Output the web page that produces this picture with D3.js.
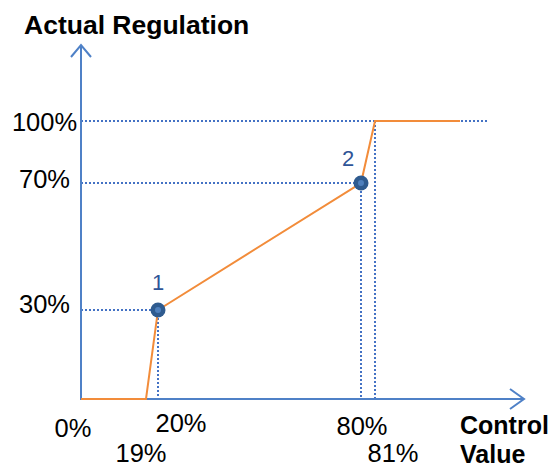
<html lang="en">
<head>
  <meta http-equiv="Content-Type" content="text/html; charset=UTF-8">
  <title>Actual Regulation</title>
  <script src="https://cdn.jsdelivr.net/npm/d3@7"></script>
  <style>
    body { margin: 0; background: #fff; }
    text { font-family: Arial, "Liberation Sans", sans-serif; }
  </style>
</head>
<body>
  <script>
    // curve points (control value % -> actual regulation %)
    var controlValues = [0, 19, 20, 80, 81, 100];
    var regulationValues = [0, 0, 30, 70, 100, 100];

    // numbered markers
    var markerIds = ["1", "2"];
    var markerControl = [20, 80];
    var markerRegulation = [30, 70];

    // tick labels
    var xTickValues = [0, 20, 19, 80, 81];
    var xTickLabels = ["0%", "20%", "19%", "80%", "81%"];
    var yTickValues = [100, 70, 30];
    var yTickLabels = ["100%", "70%", "30%"];

    var width = 555, height = 468;
    var svg = d3.select("body").append("svg").attr("width", width).attr("height", height);

    // schematic (not linear) axes, so piecewise scales
    var x = d3.scaleLinear().domain([0, 19, 20, 80, 81, 100]).range([81, 146, 158, 361, 375, 460]);
    var y = d3.scaleLinear().domain([0, 30, 70, 100]).range([399, 310, 183, 121]);

    var axisColor = "#4f81c7";
    var dotColor = "#4472c4";
    var lineColor = "#f28c3a";

    // dotted guide lines
    var guides = svg.append("g")
      .attr("stroke", dotColor)
      .attr("stroke-width", 2)
      .attr("stroke-dasharray", "2,2")
      .attr("fill", "none");
    guides.append("line").attr("x1", x(0)).attr("x2", x(100) + 27).attr("y1", y(100)).attr("y2", y(100));
    for (var i = 0; i < markerIds.length; i++) {
      guides.append("line").attr("x1", x(0)).attr("x2", x(markerControl[i]))
        .attr("y1", y(markerRegulation[i])).attr("y2", y(markerRegulation[i]));
      guides.append("line").attr("x1", x(markerControl[i])).attr("x2", x(markerControl[i]))
        .attr("y1", y(markerRegulation[i])).attr("y2", y(0));
    }
    guides.append("line").attr("x1", x(81)).attr("x2", x(81)).attr("y1", y(100)).attr("y2", y(0));

    // axes with open arrow heads
    var axes = svg.append("g").attr("stroke", axisColor).attr("stroke-width", 2).attr("fill", "none");
    axes.append("path").attr("d", d3.line()([[x(0), 45], [x(0), y(0)], [524, y(0)]]));
    axes.append("path").attr("d", d3.line()([[x(0) - 10, 57], [x(0), 45], [x(0) + 10, 57]]));
    axes.append("path").attr("d", d3.line()([[510, y(0) - 10], [524, y(0)], [510, y(0) + 10]]));

    // regulation curve
    var curve = d3.line()
      .x(function(d) { return x(d[0]); })
      .y(function(d) { return y(d[1]); });
    svg.append("path")
      .attr("d", curve(d3.zip(controlValues, regulationValues)))
      .attr("stroke", lineColor)
      .attr("stroke-width", 2)
      .attr("fill", "none");

    // markers
    var markers = svg.selectAll("g.marker").data(markerIds).enter().append("g").attr("class", "marker");
    markers.append("circle")
      .attr("cx", function(d, i) { return x(markerControl[i]); })
      .attr("cy", function(d, i) { return y(markerRegulation[i]); })
      .attr("r", 7.5)
      .attr("fill", "#2f5b8f");
    markers.append("circle")
      .attr("cx", function(d, i) { return x(markerControl[i]); })
      .attr("cy", function(d, i) { return y(markerRegulation[i]); })
      .attr("r", 3)
      .attr("fill", "#4f80bd");
    var markerDx = [0, -13];
    var markerDy = [-20, -17];
    markers.append("text")
      .attr("x", function(d, i) { return x(markerControl[i]) + markerDx[i]; })
      .attr("y", function(d, i) { return y(markerRegulation[i]) + markerDy[i]; })
      .attr("text-anchor", "middle")
      .attr("font-size", 22)
      .attr("fill", "#2f5597")
      .text(function(d) { return d; });

    // y tick labels
    var yDy = [10, 5, 3];
    svg.selectAll("text.ytick").data(yTickLabels).enter().append("text")
      .attr("class", "ytick")
      .attr("x", 44.5)
      .attr("y", function(d, i) { return y(yTickValues[i]) + yDy[i]; })
      .attr("text-anchor", "middle")
      .attr("font-size", 25.5)
      .attr("fill", "#000")
      .text(function(d) { return d; });

    // x tick labels
    var xDx = [-8, 23, -5, 1, 18];
    var xBase = [437, 432, 462, 435, 462];
    svg.selectAll("text.xtick").data(xTickLabels).enter().append("text")
      .attr("class", "xtick")
      .attr("x", function(d, i) { return x(xTickValues[i]) + xDx[i]; })
      .attr("y", function(d, i) { return xBase[i]; })
      .attr("text-anchor", "middle")
      .attr("font-size", 25.5)
      .attr("fill", "#000")
      .text(function(d) { return d; });

    // axis titles
    svg.append("text").attr("x", 24).attr("y", 34)
      .attr("font-size", 26.5).attr("font-weight", "bold")
      .text("Actual Regulation");
    svg.append("text").attr("x", 460).attr("y", 434)
      .attr("font-size", 25).attr("font-weight", "bold")
      .text("Control");
    svg.append("text").attr("x", 460).attr("y", 463)
      .attr("font-size", 25).attr("font-weight", "bold")
      .text("Value");
  </script>
</body>
</html>
